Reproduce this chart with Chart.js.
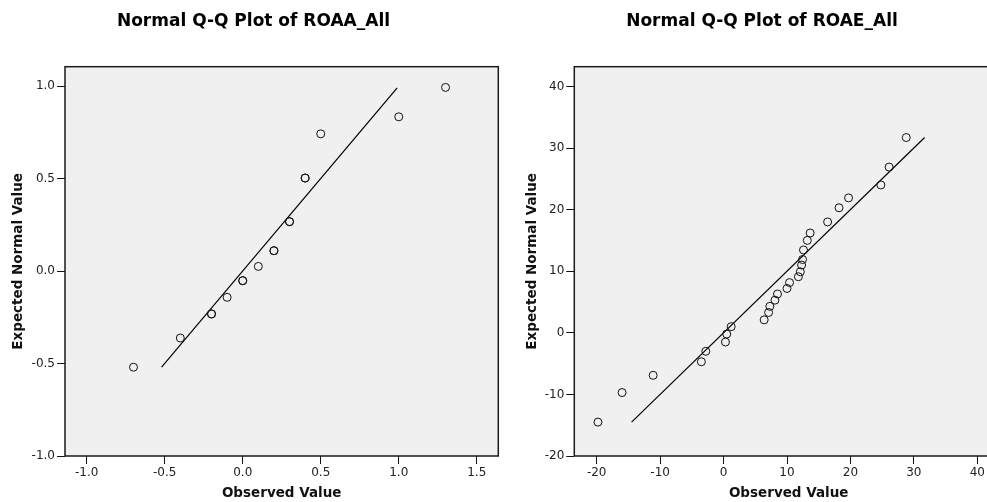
<!DOCTYPE html>
<html>
<head>
<meta charset="utf-8">
<script src="https://cdn.jsdelivr.net/npm/chart.js@4.4.1/dist/chart.umd.min.js"></script>
<style>
  html, body { margin: 0; padding: 0; background: #fff; overflow: hidden; }
  #wrap { position: relative; width: 987px; height: 502px; overflow: hidden; }
  canvas { position: absolute; top: 0; }
</style>
</head>
<body>
<div id="wrap">
  <canvas id="roaa" width="507" height="502" style="left:0"></canvas>
  <canvas id="roae" width="507" height="502" style="left:508px"></canvas>
</div>
<script>
// ROAA_All: observed value vs expected normal value
const roaaObserved = [-0.7, -0.4, -0.2, -0.2, -0.1, 0.0, 0.0, 0.1, 0.2, 0.2, 0.3, 0.3, 0.4, 0.4, 0.5, 1.0, 1.3];
const roaaExpected = [-0.52, -0.362, -0.232, -0.232, -0.142, -0.052, -0.052, 0.025, 0.11, 0.11, 0.267, 0.267, 0.503, 0.503, 0.742, 0.834, 0.993];
const roaaLine = [-0.52, 0.99];
const roaaXTicks = [-1.0, -0.5, 0.0, 0.5, 1.0, 1.5];
const roaaXLabels = ['-1.0', '-0.5', '0.0', '0.5', '1.0', '1.5'];
const roaaYTicks = [-1.0, -0.5, 0.0, 0.5, 1.0];
const roaaYLabels = ['-1.0', '-0.5', '0.0', '0.5', '1.0'];

// ROAE_All
const roaeObserved = [-19.8, -16.0, -11.1, -3.5, -2.8, 0.3, 0.5, 1.2, 6.4, 7.1, 7.3, 8.1, 8.5, 10.0, 10.4, 11.8, 12.1, 12.3, 12.45, 12.6, 13.2, 13.65, 16.4, 18.2, 19.7, 24.8, 26.1, 28.8];
const roaeExpected = [-14.5, -9.7, -6.9, -4.7, -3.0, -1.5, -0.2, 1.0, 2.1, 3.3, 4.3, 5.3, 6.3, 7.2, 8.15, 9.1, 9.9, 11.0, 11.9, 13.45, 15.0, 16.2, 18.0, 20.3, 21.9, 24.0, 26.9, 31.7];
const roaeLine = [-14.5, 31.7];
const roaeXTicks = [-20, -10, 0, 10, 20, 30, 40];
const roaeXLabels = ['-20', '-10', '0', '10', '20', '30', '40'];
const roaeYTicks = [-20, -10, 0, 10, 20, 30, 40];
const roaeYLabels = ['-20', '-10', '0', '10', '20', '30', '40'];

const framePlugin = {
    id: 'frame',
    beforeDraw(chart) {
        const a = chart.chartArea;
        const ctx = chart.ctx;
        ctx.save();
        ctx.fillStyle = '#f0f0f0';
        ctx.fillRect(a.left, a.top, a.right - a.left, a.bottom - a.top);
        ctx.restore();
    },
    afterDraw(chart) {
        const a = chart.chartArea;
        const ctx = chart.ctx;
        ctx.save();
        ctx.strokeStyle = '#1a1a1a';
        ctx.lineWidth = 1.5;
        ctx.strokeRect(a.left, a.top, a.right - a.left, a.bottom - a.top);
        ctx.restore();
    }
};

function drawQQ(id, title, obs, exp, line, xTicks, xLabels, yTicks, yLabels, lay) {
    const points = obs.map((v, i) => ({ x: v, y: exp[i] }));
    const tickFont = { family: 'DejaVu Sans', size: 12 };
    const axisFont = { family: 'DejaVu Sans', size: 13.5, weight: 'bold', lineHeight: 1 };

    new Chart(document.getElementById(id), {
        type: 'scatter',
        data: {
            datasets: [{
                data: points,
                pointRadius: 4,
                pointHoverRadius: 4,
                pointBorderWidth: 1,
                pointBorderColor: '#111',
                pointBackgroundColor: 'rgba(0,0,0,0)'
            }, {
                data: line.map(v => ({ x: v, y: v })),
                showLine: true,
                borderColor: '#000',
                borderWidth: 1.2,
                pointRadius: 0
            }]
        },
        options: {
            responsive: false,
            animation: false,
            layout: { padding: { left: lay.padLeft, right: lay.padRight, top: 0, bottom: 0 } },
            scales: {
                x: {
                    type: 'linear',
                    min: lay.xMin, max: lay.xMax,
                    afterBuildTicks: s => { s.ticks = xTicks.map(v => ({ value: v })); },
                    afterFit: s => { s.height = 46; },
                    ticks: { font: tickFont, color: '#222', padding: 2, maxRotation: 0, autoSkip: false,
                             callback: (v, i) => xLabels[i] },
                    grid: { drawOnChartArea: false, drawTicks: true, tickLength: 8, color: '#111', lineWidth: 1 },
                    border: { display: false },
                    title: { display: true, text: 'Observed Value', font: axisFont, color: '#111',
                             padding: { top: 0, bottom: 2 } }
                },
                y: {
                    type: 'linear',
                    min: lay.yMin, max: lay.yMax,
                    afterBuildTicks: s => { s.ticks = yTicks.map(v => ({ value: v })); },
                    afterFit: s => { s.width = lay.yWidth; },
                    ticks: { font: tickFont, color: '#222', padding: 2,
                             callback: (v, i) => yLabels[i] },
                    grid: { drawOnChartArea: false, drawTicks: true, tickLength: 8, color: '#111', lineWidth: 1 },
                    border: { display: false },
                    title: { display: true, text: 'Expected Normal Value', font: axisFont, color: '#111',
                             padding: { top: lay.yTitlePad, bottom: 0 } }
                }
            },
            plugins: {
                legend: { display: false },
                tooltip: { enabled: false },
                title: {
                    display: true,
                    text: title,
                    color: '#000',
                    font: { family: 'DejaVu Sans', size: 17, weight: 'bold' },
                    padding: { top: 11.1, bottom: 35.2 }
                }
            }
        },
        plugins: [framePlugin]
    });
}

drawQQ('roaa', 'Normal Q-Q Plot of ROAA_All', roaaObserved, roaaExpected, roaaLine,
    roaaXTicks, roaaXLabels, roaaYTicks, roaaYLabels,
    { xMin: -1.139, xMax: 1.638, yMin: -1.0, yMax: 1.105, padLeft: 8.7, padRight: 8.7, yWidth: 56.3, yTitlePad: 3.3 });

drawQQ('roae', 'Normal Q-Q Plot of ROAE_All', roaeObserved, roaeExpected, roaeLine,
    roaeXTicks, roaeXLabels, roaeYTicks, roaeYLabels,
    { xMin: -23.53, xMax: 44.05, yMin: -20.0, yMax: 43.2, padLeft: 13, padRight: 12, yWidth: 53.3, yTitlePad: 4.8 });
</script>
</body>
</html>
